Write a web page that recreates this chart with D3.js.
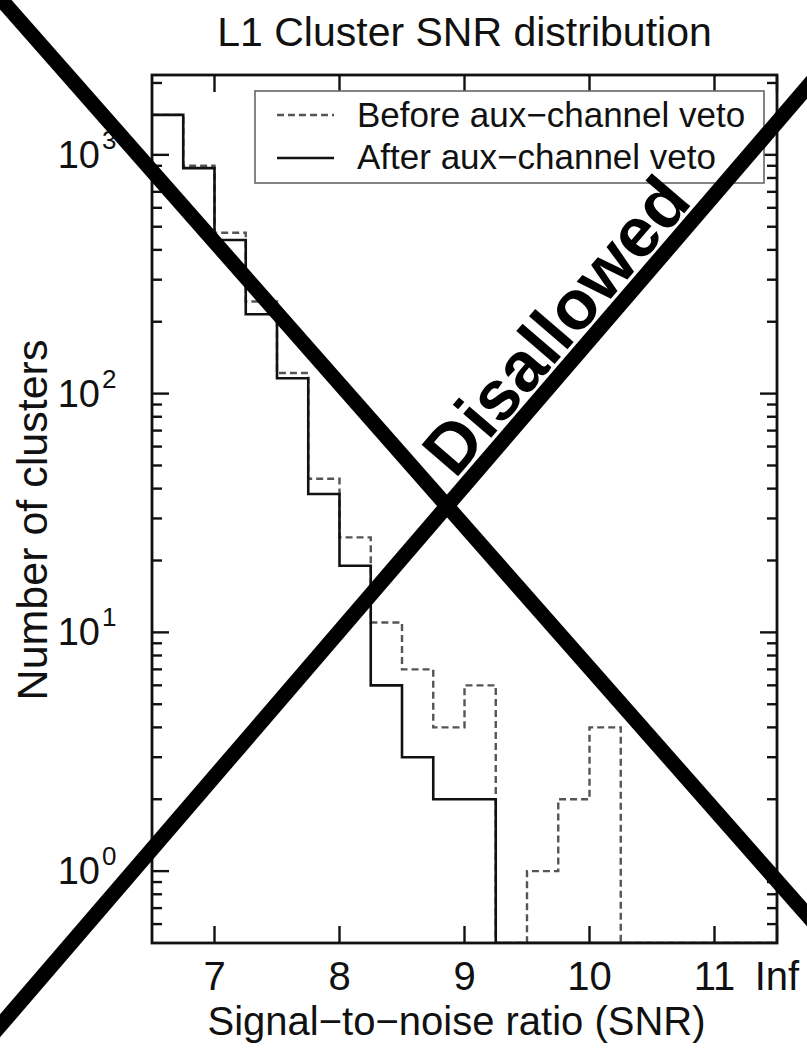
<!DOCTYPE html>
<html>
<head>
<meta charset="utf-8">
<script src="https://cdn.jsdelivr.net/npm/d3@7"></script>
<style>
  html, body { margin: 0; padding: 0; background: #fff; }
  svg { display: block; }
  text { font-family: "Liberation Sans", Arial, Helvetica, sans-serif; fill: #111; }
</style>
</head>
<body>
<svg id="chart" width="807" height="1048"></svg>
<script>
// Histogram bins: lower edges (SNR), fixed width 0.25
const binStarts = [6.5, 6.75, 7.0, 7.25, 7.5, 7.75, 8.0, 8.25, 8.5, 8.75,
                   9.0, 9.25, 9.5, 9.75, 10.0, 10.25, 10.5, 10.75, 11.0, 11.25];
const binWidth = 0.25;

// Cluster counts per bin
const beforeVeto = [1470, 900, 472, 243, 122, 44, 25, 11, 7, 4,
                    6, 0, 1, 2, 4, 0, 0, 0, 0, 0];
const afterVeto  = [1470, 880, 440, 215, 116, 38, 19, 6, 3, 2,
                    2, 0, 0, 0, 0, 0, 0, 0, 0, 0];

const seriesNames = ["Before aux\u2212channel veto", "After aux\u2212channel veto"];

// Axis ticks
const xTickValues = [7, 8, 9, 10, 11, 11.5];
const xTickLabels = ["7", "8", "9", "10", "11", "Inf"];
const yDecades = [0, 1, 2, 3];

const titleText = "L1 Cluster SNR distribution";
const xTitle = "Signal\u2212to\u2212noise ratio (SNR)";
const yTitle = "Number of clusters";
const stampText = "Disallowed";

const svg = d3.select("#chart");
const W = 807, H = 1048;
const plot = { left: 152, right: 777, top: 75, bottom: 943 };

const x = d3.scaleLinear().domain([6.5, 11.5]).range([plot.left, plot.right]);
const yMin = 0.5, yMax = 2160;
const y = d3.scaleLog().domain([yMin, yMax]).range([plot.bottom, plot.top]);

svg.append("rect").attr("width", W).attr("height", H).attr("fill", "#fff");

// Step outlines
function stepPoints(values) {
  const pts = binStarts.map((b, i) => [b, Math.max(values[i], yMin)]);
  const last = binStarts[binStarts.length - 1] + binWidth;
  pts.push([last, Math.max(values[values.length - 1], yMin)]);
  return pts;
}
const stepLine = d3.line()
  .x(d => x(d[0]))
  .y(d => y(d[1]))
  .curve(d3.curveStepAfter);

svg.append("clipPath").attr("id", "plotClip")
  .append("rect")
  .attr("x", plot.left).attr("y", plot.top)
  .attr("width", plot.right - plot.left).attr("height", plot.bottom - plot.top);

const g = svg.append("g").attr("clip-path", "url(#plotClip)");

g.append("path")
  .attr("d", stepLine(stepPoints(beforeVeto)))
  .attr("fill", "none")
  .attr("stroke", "#555")
  .attr("stroke-width", 2.4)
  .attr("stroke-dasharray", "7,4");

g.append("path")
  .attr("d", stepLine(stepPoints(afterVeto)))
  .attr("fill", "none")
  .attr("stroke", "#111")
  .attr("stroke-width", 2.6);

// Inward ticks on all four sides
const majorLen = 17, minorLen = 10;
const axisG = svg.append("g").attr("stroke", "#111").attr("stroke-width", 2.4);

xTickValues.forEach(v => {
  axisG.append("line").attr("x1", x(v)).attr("x2", x(v))
    .attr("y1", plot.bottom).attr("y2", plot.bottom - majorLen);
  axisG.append("line").attr("x1", x(v)).attr("x2", x(v))
    .attr("y1", plot.top).attr("y2", plot.top + majorLen);
});

const yTicks = [];
for (let e = -1; e <= 3; e++) {
  for (let m = 1; m <= 9; m++) {
    const v = m * Math.pow(10, e);
    if (v > yMin && v < yMax) yTicks.push({ v, major: m === 1 });
  }
}
yTicks.forEach(t => {
  const len = t.major ? majorLen : minorLen;
  axisG.append("line").attr("x1", plot.left).attr("x2", plot.left + len)
    .attr("y1", y(t.v)).attr("y2", y(t.v));
  axisG.append("line").attr("x1", plot.right).attr("x2", plot.right - len)
    .attr("y1", y(t.v)).attr("y2", y(t.v));
});

// Frame
svg.append("rect")
  .attr("x", plot.left).attr("y", plot.top)
  .attr("width", plot.right - plot.left).attr("height", plot.bottom - plot.top)
  .attr("fill", "none").attr("stroke", "#111").attr("stroke-width", 2.8);

// Tick labels
svg.append("g").selectAll("text")
  .data(xTickValues)
  .join("text")
  .attr("x", d => x(d))
  .attr("y", 990)
  .attr("text-anchor", "middle")
  .attr("font-size", 40)
  .text((d, i) => xTickLabels[i]);

const yl = svg.append("g");
yDecades.forEach(e => {
  const yy = y(Math.pow(10, e));
  yl.append("text")
    .attr("x", 100).attr("y", yy + 13)
    .attr("text-anchor", "end")
    .attr("font-size", 38)
    .text("10");
  yl.append("text")
    .attr("x", 102).attr("y", yy - 6)
    .attr("font-size", 26)
    .text(String(e));
});

// Titles
svg.append("text")
  .attr("x", (plot.left + plot.right) / 2).attr("y", 46)
  .attr("text-anchor", "middle").attr("font-size", 41)
  .text(titleText);

svg.append("text")
  .attr("x", (plot.left + plot.right) / 2 - 8).attr("y", 1035)
  .attr("text-anchor", "middle").attr("font-size", 40)
  .text(xTitle);

svg.append("text")
  .attr("transform", "translate(47,520) rotate(-90)")
  .attr("text-anchor", "middle").attr("font-size", 43)
  .text(yTitle);

// Legend
const lg = svg.append("g");
lg.append("rect")
  .attr("x", 255).attr("y", 91).attr("width", 509).attr("height", 92)
  .attr("fill", "#fff").attr("stroke", "#666").attr("stroke-width", 1.6);
const legendRows = [
  { name: seriesNames[0], dash: "7,4", color: "#555", ly: 115, ty: 127 },
  { name: seriesNames[1], dash: null, color: "#111", ly: 158, ty: 169 }
];
legendRows.forEach(r => {
  const ln = lg.append("line")
    .attr("x1", 277).attr("x2", 334).attr("y1", r.ly).attr("y2", r.ly)
    .attr("stroke", r.color).attr("stroke-width", 2.6);
  if (r.dash) ln.attr("stroke-dasharray", r.dash);
  lg.append("text").attr("x", 357).attr("y", r.ty)
    .attr("font-size", 35).text(r.name);
});

// Cross-out stamp: two thick strokes meeting near the plot centre
const cx = 447, cy = 506, s1 = 1.136, s2 = -1.163;
const stamp = svg.append("g").attr("stroke", "#000").attr("stroke-width", 15);
stamp.append("line")
  .attr("x1", cx - 480).attr("y1", cy - 480 * s1)
  .attr("x2", cx + 480).attr("y2", cy + 480 * s1);
stamp.append("line")
  .attr("x1", cx - 480).attr("y1", cy - 480 * s2)
  .attr("x2", cx + 480).attr("y2", cy + 480 * s2);

const ang = Math.atan(s2) * 180 / Math.PI;
const along = 208;
const dx = along / Math.sqrt(1 + s2 * s2);
svg.append("text")
  .attr("transform", `translate(${cx + dx},${cy + dx * s2}) rotate(${ang}) translate(0,-11)`)
  .attr("text-anchor", "middle")
  .attr("font-size", 70)
  .attr("font-weight", "bold")
  .style("fill", "#000")
  .text(stampText);
</script>
</body>
</html>
